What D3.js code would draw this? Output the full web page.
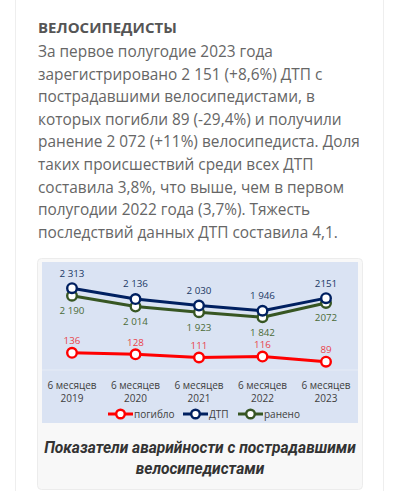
<!DOCTYPE html>
<html><head><meta charset="utf-8">
<script src="https://cdn.jsdelivr.net/npm/d3@7"></script>
<style>
html,body{margin:0;padding:0;background:#fff;}
svg{display:block;}
</style></head>
<body>
<svg id="c" width="400" height="491"></svg>
<script>
const years = ["2019","2020","2021","2022","2023"];
const periodLabel = "6 месяцев";
const dtp = [2313, 2136, 2030, 1946, 2151];
const dtpLabels = ["2 313","2 136","2 030","1 946","2151"];
const injured = [2190, 2014, 1923, 1842, 2072];
const injuredLabels = ["2 190","2 014","1 923","1 842","2072"];
const killed = [136, 128, 111, 116, 89];
const killedLabels = ["136","128","111","116","89"];
const legendNames = ["погибло","ДТП","ранено"];
const titleText = "ВЕЛОСИПЕДИСТЫ";
const bodyLines = [
 "За первое полугодие 2023 года",
 "зарегистрировано 2 151 (+8,6%) ДТП с",
 "пострадавшими велосипедистами, в",
 "которых погибли 89 (-29,4%) и получили",
 "ранение 2 072 (+11%) велосипедиста. Доля",
 "таких происшествий среди всех ДТП",
 "составила 3,8%, что выше, чем в первом",
 "полугодии 2022 года (3,7%). Тяжесть",
 "последствий данных ДТП составила 4,1."
];
const captionLines = ["Показатели аварийности с пострадавшими","велосипедистами"];

const svg = d3.select("#c");
// card borders
svg.append("line").attr("x1",15.5).attr("x2",15.5).attr("y1",0).attr("y2",491).attr("stroke","#eeeeee");
svg.append("line").attr("x1",383.5).attr("x2",383.5).attr("y1",0).attr("y2",491).attr("stroke","#eeeeee");

// title + body
svg.append("text").attr("x",38).attr("y",33).text(titleText)
  .attr("font-family","Open Sans").attr("font-weight",700).attr("font-size",15).attr("fill","#555");
svg.append("g").selectAll("text").data(bodyLines).join("text")
  .attr("x",38).attr("y",(d,i)=>57+i*22.6).text(d=>d)
  .attr("font-family","Open Sans").attr("font-size",15.4).attr("fill","#666");

// figure box
svg.append("rect").attr("x",37.5).attr("y",258.5).attr("width",325).attr("height",231).attr("rx",4)
  .attr("fill","#f8f8f8").attr("stroke","#ececec");
// chart image
svg.append("rect").attr("x",42).attr("y",262).attr("width",316).attr("height",161).attr("fill","#dae3f3");
svg.append("line").attr("x1",42).attr("x2",358).attr("y1",370).attr("y2",370).attr("stroke","#e6ecf6").attr("stroke-width",1);

const x = d3.scalePoint().domain(years).range([72,326]);
const yP = d3.scaleLinear().domain([1000,2600]).range([369,270.5]);
const yS = d3.scaleLinear().domain([50,575]).range([369,270]);

const series = [
  {vals:killed, labels:killedLabels, y:yS, color:"#ff0000", lab:"#e8434b", dy:-12},
  {vals:injured, labels:injuredLabels, y:yP, color:"#375623", lab:"#4b6b37", dy:15},
  {vals:dtp, labels:dtpLabels, y:yP, color:"#002060", lab:"#203864", dy:-15}
];
const font = "Open Sans";
series.forEach(s=>{
  const pts = years.map((yr,i)=>[x(yr), s.y(s.vals[i])]);
  svg.append("path").attr("d", d3.line()(pts)).attr("fill","none").attr("stroke",s.color).attr("stroke-width",3).attr("stroke-linejoin","round");
  svg.append("g").selectAll("circle").data(pts).join("circle")
    .attr("cx",d=>d[0]).attr("cy",d=>d[1]).attr("r",4.8).attr("fill","#fff").attr("stroke",s.color).attr("stroke-width",2.4);
  svg.append("g").selectAll("text").data(pts).join("text")
    .attr("x",d=>d[0]).attr("y",d=>d[1]+s.dy).attr("dy","0.35em").attr("text-anchor","middle")
    .text((d,i)=>s.labels[i]).attr("font-family",font).attr("font-size",9.8).attr("fill",s.lab);
});

// x axis labels
const xa = svg.append("g").selectAll("g").data(years).join("g");
xa.append("text").attr("x",d=>x(d)).attr("y",385).attr("dy","0.35em").attr("text-anchor","middle")
  .text(periodLabel).attr("font-family",font).attr("font-size",10).attr("fill","#404040");
xa.append("text").attr("x",d=>x(d)).attr("y",398).attr("dy","0.35em").attr("text-anchor","middle")
  .text(d=>d).attr("font-family",font).attr("font-size",10).attr("fill","#404040");

// legend
const legend = [
  {name:legendNames[0], color:"#ff0000", x0:108},
  {name:legendNames[1], color:"#002060", x0:183},
  {name:legendNames[2], color:"#375623", x0:238}
];
const lg = svg.append("g").selectAll("g").data(legend).join("g");
lg.append("line").attr("x1",d=>d.x0).attr("x2",d=>d.x0+25).attr("y1",414).attr("y2",414).attr("stroke",d=>d.color).attr("stroke-width",3);
lg.append("circle").attr("cx",d=>d.x0+12.5).attr("cy",414).attr("r",4.3).attr("fill","#fff").attr("stroke",d=>d.color).attr("stroke-width",2.4);
lg.append("text").attr("x",d=>d.x0+26).attr("y",414).attr("dy","0.35em").text(d=>d.name)
  .attr("font-family",font).attr("font-size",10).attr("fill","#404040");

// caption
svg.append("g").selectAll("text").data(captionLines).join("text")
  .attr("x",200).attr("y",(d,i)=>452.5+i*21).attr("text-anchor","middle").text(d=>d)
  .attr("font-family","Roboto").attr("font-weight",700).attr("font-style","italic").attr("font-size",15.6).attr("fill","#333");
</script>
</body></html>
